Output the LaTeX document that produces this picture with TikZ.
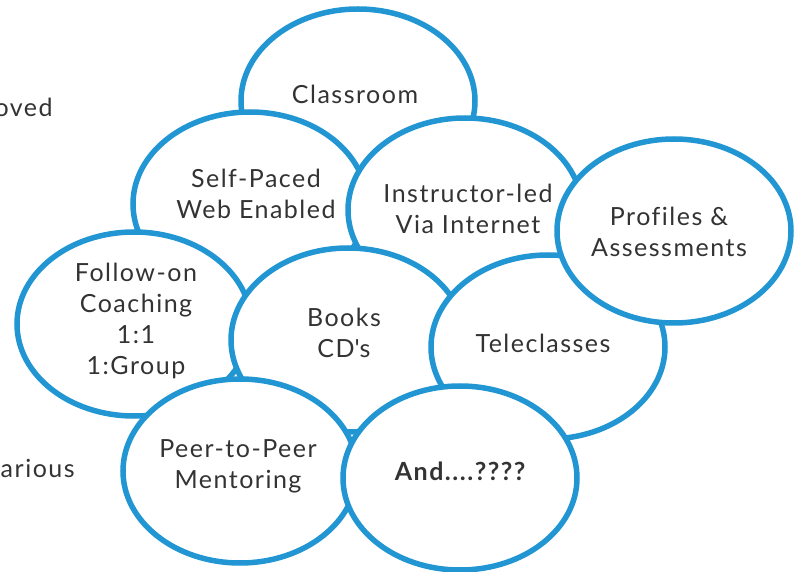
\documentclass[tikz,border=0pt]{standalone}
\usepackage{fontspec}
\setmainfont{Lato}[LetterSpace=6,Ligatures=NoCommon]
\usepackage{xcolor}
\usetikzlibrary{shapes.geometric}
\usetikzlibrary{positioning}

\definecolor{bubbleblue}{RGB}{33,150,210}
\definecolor{textgray}{RGB}{51,51,51}

\begin{document}
\begin{tikzpicture}[x=1pt,y=-1pt,semithick]
 	\tikzstyle{bubble}=[draw=bubbleblue, line width=5.5pt, ellipse, fill=white,
 	                    minimum width=234pt, minimum height=184pt, inner sep=0pt]
 	\tikzstyle{txt}=[align=center, inner sep=0pt, text=textgray, font=\fontsize{25}{31}\selectfont]
 	\tikzstyle{side}=[txt, anchor=east]
 	\useasboundingbox (0,0) rectangle (796,572);
 	% cut-off words on the left
 	\node[side] (oved)   at (53,107)  {oved};
 	\node[side] (arious) at (75,468)  {arious};
 	% bubbles, back to front, each with its text
 	\node[bubble] (class)   at (358,101) {};
 	\node[txt] (classT)     at (355,94)  {Classroom};
 	\node[bubble] (self)    at (250,204) {};
 	\node[txt] (selfT)      at (256,194) {Self-Paced\\Web Enabled};
 	\node[bubble] (instr)   at (465,210) {};
 	\node[txt] (instrT)     at (468,209) {Instructor-led\\Via Internet};
 	\node[bubble] (follow)  at (134,324) {};
 	\node[txt] (followT)    at (136,321) {Follow-on\\Coaching\\1:1\\1:Group};
 	\node[bubble] (books)   at (348,340) {};
 	\node[txt] (booksT)     at (344,333) {Books\\CD\textquotesingle s};
 	\node[bubble] (tele)    at (548,347) {};
 	\node[txt] (teleT)      at (543,343) {Teleclasses};
 	\node[bubble] (prof)    at (674,231) {};
 	\node[txt] (profT)      at (669,232) {Profiles \&\\Assessments};
 	\node[bubble] (peer)    at (240,471) {};
 	\node[txt] (peerT)      at (238,466) {Peer-to-Peer\\Mentoring};
 	\node[bubble] (and)     at (460,478) {};
 	\node[txt] (andT)       at (460,471) {\bfseries And....????};
\end{tikzpicture}
\end{document}
